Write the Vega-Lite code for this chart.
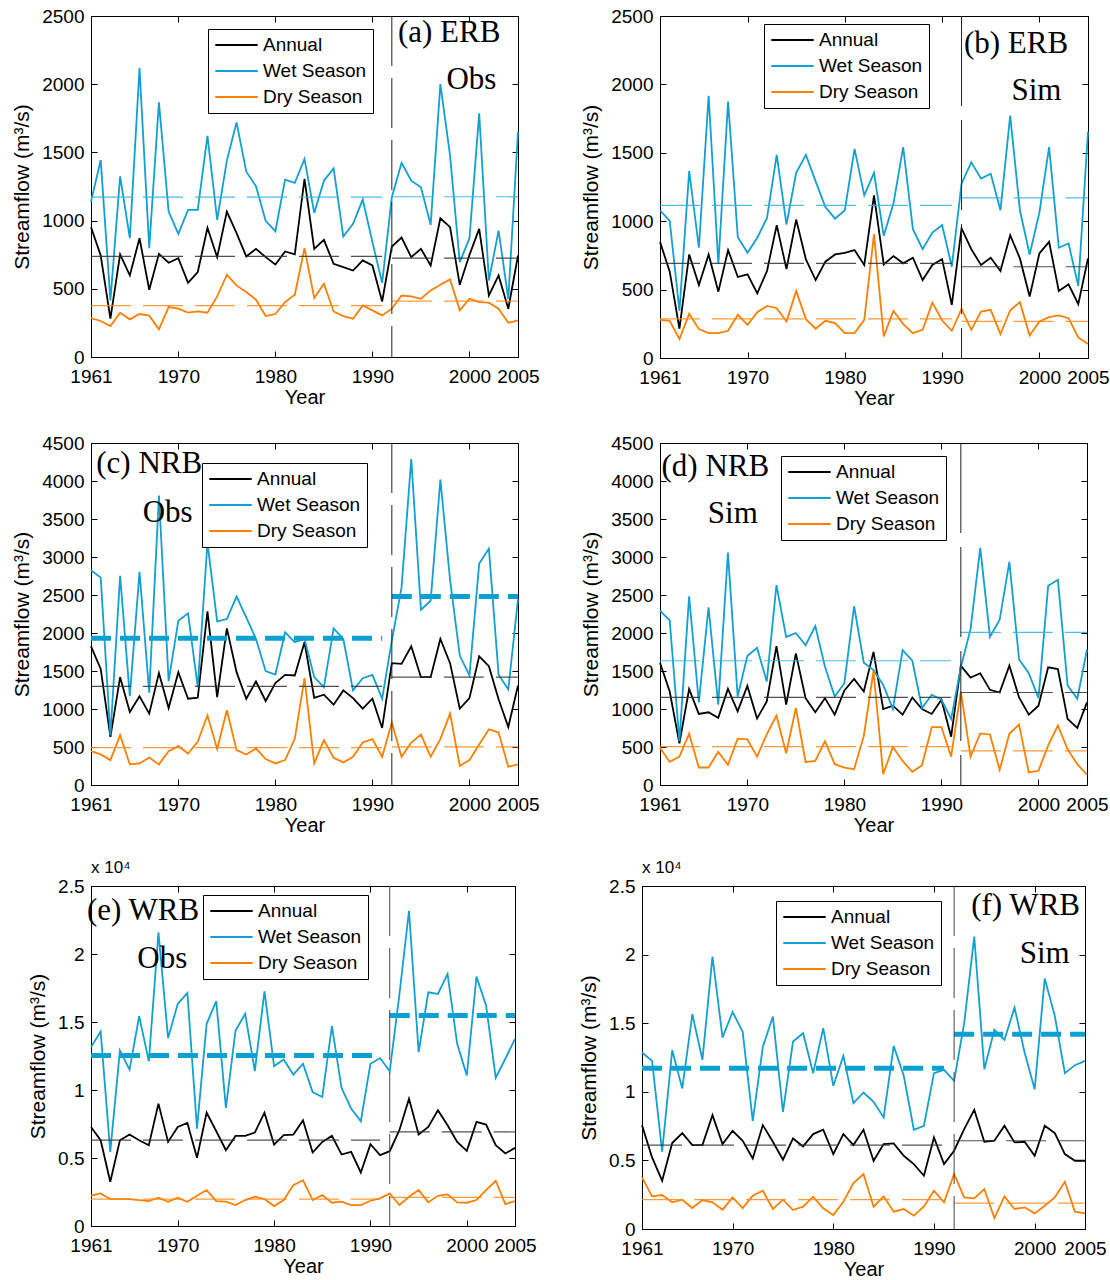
{
"$schema": "https://vega.github.io/schema/vega-lite/v6.json",
"padding": {"left": 11, "top": 6, "right": 2, "bottom": 2},
"background": "white",
"datasets": {
"ts": [
{"p":"a","year":1961,"Annual":952,"Wet Season":1139,"Dry Season":285},
{"p":"a","year":1962,"Annual":744,"Wet Season":1444,"Dry Season":264},
{"p":"a","year":1963,"Annual":281,"Wet Season":415,"Dry Season":227},
{"p":"a","year":1964,"Annual":752,"Wet Season":1325,"Dry Season":325},
{"p":"a","year":1965,"Annual":598,"Wet Season":871,"Dry Season":276},
{"p":"a","year":1966,"Annual":871,"Wet Season":2118,"Dry Season":315},
{"p":"a","year":1967,"Annual":493,"Wet Season":798,"Dry Season":303},
{"p":"a","year":1968,"Annual":756,"Wet Season":1867,"Dry Season":203},
{"p":"a","year":1969,"Annual":691,"Wet Season":1066,"Dry Season":366},
{"p":"a","year":1970,"Annual":725,"Wet Season":903,"Dry Season":354},
{"p":"a","year":1971,"Annual":544,"Wet Season":1078,"Dry Season":325},
{"p":"a","year":1972,"Annual":622,"Wet Season":1078,"Dry Season":334},
{"p":"a","year":1973,"Annual":947,"Wet Season":1622,"Dry Season":325},
{"p":"a","year":1974,"Annual":732,"Wet Season":1005,"Dry Season":444},
{"p":"a","year":1975,"Annual":1066,"Wet Season":1440,"Dry Season":603},
{"p":"a","year":1976,"Annual":908,"Wet Season":1720,"Dry Season":525},
{"p":"a","year":1977,"Annual":737,"Wet Season":1359,"Dry Season":476},
{"p":"a","year":1978,"Annual":793,"Wet Season":1252,"Dry Season":420},
{"p":"a","year":1979,"Annual":732,"Wet Season":998,"Dry Season":300},
{"p":"a","year":1980,"Annual":678,"Wet Season":922,"Dry Season":315},
{"p":"a","year":1981,"Annual":774,"Wet Season":1300,"Dry Season":403},
{"p":"a","year":1982,"Annual":752,"Wet Season":1276,"Dry Season":456},
{"p":"a","year":1983,"Annual":1305,"Wet Season":1452,"Dry Season":798},
{"p":"a","year":1984,"Annual":793,"Wet Season":1056,"Dry Season":432},
{"p":"a","year":1985,"Annual":859,"Wet Season":1293,"Dry Season":537},
{"p":"a","year":1986,"Annual":683,"Wet Season":1383,"Dry Season":334},
{"p":"a","year":1987,"Annual":659,"Wet Season":883,"Dry Season":300},
{"p":"a","year":1988,"Annual":634,"Wet Season":976,"Dry Season":281},
{"p":"a","year":1989,"Annual":708,"Wet Season":1154,"Dry Season":378},
{"p":"a","year":1990,"Annual":671,"Wet Season":842,"Dry Season":342},
{"p":"a","year":1991,"Annual":407,"Wet Season":544,"Dry Season":305},
{"p":"a","year":1992,"Annual":810,"Wet Season":1171,"Dry Season":354},
{"p":"a","year":1993,"Annual":876,"Wet Season":1423,"Dry Season":451},
{"p":"a","year":1994,"Annual":732,"Wet Season":1293,"Dry Season":444},
{"p":"a","year":1995,"Annual":793,"Wet Season":1244,"Dry Season":427},
{"p":"a","year":1996,"Annual":671,"Wet Season":969,"Dry Season":488},
{"p":"a","year":1997,"Annual":1017,"Wet Season":2001,"Dry Season":529},
{"p":"a","year":1998,"Annual":952,"Wet Season":1476,"Dry Season":569},
{"p":"a","year":1999,"Annual":529,"Wet Season":695,"Dry Season":342},
{"p":"a","year":2000,"Annual":749,"Wet Season":871,"Dry Season":427},
{"p":"a","year":2001,"Annual":939,"Wet Season":1786,"Dry Season":403},
{"p":"a","year":2002,"Annual":451,"Wet Season":561,"Dry Season":398},
{"p":"a","year":2003,"Annual":598,"Wet Season":927,"Dry Season":354},
{"p":"a","year":2004,"Annual":354,"Wet Season":427,"Dry Season":251},
{"p":"a","year":2005,"Annual":744,"Wet Season":1652,"Dry Season":268},
{"p":"b","year":1961,"Annual":849,"Wet Season":1080,"Dry Season":279},
{"p":"b","year":1962,"Annual":631,"Wet Season":1002,"Dry Season":272},
{"p":"b","year":1963,"Annual":214,"Wet Season":345,"Dry Season":138},
{"p":"b","year":1964,"Annual":757,"Wet Season":1366,"Dry Season":323},
{"p":"b","year":1965,"Annual":534,"Wet Season":806,"Dry Season":211},
{"p":"b","year":1966,"Annual":757,"Wet Season":1917,"Dry Season":182},
{"p":"b","year":1967,"Annual":485,"Wet Season":687,"Dry Season":182},
{"p":"b","year":1968,"Annual":789,"Wet Season":1874,"Dry Season":199},
{"p":"b","year":1969,"Annual":592,"Wet Season":883,"Dry Season":316},
{"p":"b","year":1970,"Annual":612,"Wet Season":769,"Dry Season":243},
{"p":"b","year":1971,"Annual":473,"Wet Season":879,"Dry Season":335},
{"p":"b","year":1972,"Annual":636,"Wet Season":1024,"Dry Season":381},
{"p":"b","year":1973,"Annual":971,"Wet Season":1485,"Dry Season":364},
{"p":"b","year":1974,"Annual":650,"Wet Season":976,"Dry Season":267},
{"p":"b","year":1975,"Annual":1012,"Wet Season":1354,"Dry Season":490},
{"p":"b","year":1976,"Annual":721,"Wet Season":1485,"Dry Season":284},
{"p":"b","year":1977,"Annual":570,"Wet Season":1291,"Dry Season":214},
{"p":"b","year":1978,"Annual":704,"Wet Season":1104,"Dry Season":272},
{"p":"b","year":1979,"Annual":757,"Wet Season":1019,"Dry Season":255},
{"p":"b","year":1980,"Annual":769,"Wet Season":1080,"Dry Season":182},
{"p":"b","year":1981,"Annual":789,"Wet Season":1529,"Dry Season":182},
{"p":"b","year":1982,"Annual":680,"Wet Season":1189,"Dry Season":279},
{"p":"b","year":1983,"Annual":1189,"Wet Season":1354,"Dry Season":905},
{"p":"b","year":1984,"Annual":684,"Wet Season":893,"Dry Season":158},
{"p":"b","year":1985,"Annual":745,"Wet Season":1129,"Dry Season":345},
{"p":"b","year":1986,"Annual":692,"Wet Season":1541,"Dry Season":248},
{"p":"b","year":1987,"Annual":733,"Wet Season":942,"Dry Season":182},
{"p":"b","year":1988,"Annual":570,"Wet Season":796,"Dry Season":206},
{"p":"b","year":1989,"Annual":680,"Wet Season":917,"Dry Season":405},
{"p":"b","year":1990,"Annual":723,"Wet Season":971,"Dry Season":274},
{"p":"b","year":1991,"Annual":388,"Wet Season":667,"Dry Season":199},
{"p":"b","year":1992,"Annual":947,"Wet Season":1274,"Dry Season":359},
{"p":"b","year":1993,"Annual":796,"Wet Season":1432,"Dry Season":206},
{"p":"b","year":1994,"Annual":680,"Wet Season":1311,"Dry Season":340},
{"p":"b","year":1995,"Annual":733,"Wet Season":1347,"Dry Season":352},
{"p":"b","year":1996,"Annual":636,"Wet Season":1080,"Dry Season":175},
{"p":"b","year":1997,"Annual":898,"Wet Season":1772,"Dry Season":349},
{"p":"b","year":1998,"Annual":728,"Wet Season":1080,"Dry Season":408},
{"p":"b","year":1999,"Annual":449,"Wet Season":757,"Dry Season":165},
{"p":"b","year":2000,"Annual":764,"Wet Season":1063,"Dry Season":267},
{"p":"b","year":2001,"Annual":849,"Wet Season":1541,"Dry Season":299},
{"p":"b","year":2002,"Annual":490,"Wet Season":806,"Dry Season":311},
{"p":"b","year":2003,"Annual":539,"Wet Season":837,"Dry Season":291},
{"p":"b","year":2004,"Annual":393,"Wet Season":527,"Dry Season":150},
{"p":"b","year":2005,"Annual":728,"Wet Season":1655,"Dry Season":102},
{"p":"c","year":1961,"Annual":1825,"Wet Season":2826,"Dry Season":445},
{"p":"c","year":1962,"Annual":1528,"Wet Season":2729,"Dry Season":402},
{"p":"c","year":1963,"Annual":633,"Wet Season":655,"Dry Season":328},
{"p":"c","year":1964,"Annual":1419,"Wet Season":2751,"Dry Season":655},
{"p":"c","year":1965,"Annual":961,"Wet Season":1170,"Dry Season":271},
{"p":"c","year":1966,"Annual":1166,"Wet Season":2804,"Dry Season":284},
{"p":"c","year":1967,"Annual":939,"Wet Season":1214,"Dry Season":362},
{"p":"c","year":1968,"Annual":1472,"Wet Season":3808,"Dry Season":271},
{"p":"c","year":1969,"Annual":1013,"Wet Season":1367,"Dry Season":445},
{"p":"c","year":1970,"Annual":1485,"Wet Season":2162,"Dry Season":511},
{"p":"c","year":1971,"Annual":1135,"Wet Season":2258,"Dry Season":415},
{"p":"c","year":1972,"Annual":1148,"Wet Season":1288,"Dry Season":568},
{"p":"c","year":1973,"Annual":2284,"Wet Season":3188,"Dry Season":917},
{"p":"c","year":1974,"Annual":1157,"Wet Season":2153,"Dry Season":472},
{"p":"c","year":1975,"Annual":2061,"Wet Season":2183,"Dry Season":983},
{"p":"c","year":1976,"Annual":1485,"Wet Season":2480,"Dry Season":459},
{"p":"c","year":1977,"Annual":1135,"Wet Season":2205,"Dry Season":402},
{"p":"c","year":1978,"Annual":1362,"Wet Season":1921,"Dry Season":480},
{"p":"c","year":1979,"Annual":1105,"Wet Season":1498,"Dry Season":341},
{"p":"c","year":1980,"Annual":1340,"Wet Season":1454,"Dry Season":284},
{"p":"c","year":1981,"Annual":1450,"Wet Season":2009,"Dry Season":328},
{"p":"c","year":1982,"Annual":1441,"Wet Season":1878,"Dry Season":611},
{"p":"c","year":1983,"Annual":1878,"Wet Season":1921,"Dry Season":1406},
{"p":"c","year":1984,"Annual":1148,"Wet Season":1419,"Dry Season":284},
{"p":"c","year":1985,"Annual":1188,"Wet Season":1288,"Dry Season":590},
{"p":"c","year":1986,"Annual":1057,"Wet Season":2061,"Dry Season":358},
{"p":"c","year":1987,"Annual":1245,"Wet Season":1921,"Dry Season":297},
{"p":"c","year":1988,"Annual":1144,"Wet Season":1245,"Dry Season":371},
{"p":"c","year":1989,"Annual":1004,"Wet Season":1406,"Dry Season":559},
{"p":"c","year":1990,"Annual":1135,"Wet Season":1450,"Dry Season":603},
{"p":"c","year":1991,"Annual":751,"Wet Season":1135,"Dry Season":371},
{"p":"c","year":1992,"Annual":1603,"Wet Season":1900,"Dry Season":821},
{"p":"c","year":1993,"Annual":1594,"Wet Season":2600,"Dry Season":371},
{"p":"c","year":1994,"Annual":1825,"Wet Season":4288,"Dry Season":559},
{"p":"c","year":1995,"Annual":1419,"Wet Season":2306,"Dry Season":664},
{"p":"c","year":1996,"Annual":1419,"Wet Season":2424,"Dry Season":371},
{"p":"c","year":1997,"Annual":1921,"Wet Season":4018,"Dry Season":603},
{"p":"c","year":1998,"Annual":1603,"Wet Season":2700,"Dry Season":939},
{"p":"c","year":1999,"Annual":1004,"Wet Season":1703,"Dry Season":253},
{"p":"c","year":2000,"Annual":1144,"Wet Season":1441,"Dry Season":328},
{"p":"c","year":2001,"Annual":1694,"Wet Season":2913,"Dry Season":533},
{"p":"c","year":2002,"Annual":1563,"Wet Season":3109,"Dry Season":734},
{"p":"c","year":2003,"Annual":1127,"Wet Season":1450,"Dry Season":690},
{"p":"c","year":2004,"Annual":764,"Wet Season":1258,"Dry Season":240},
{"p":"c","year":2005,"Annual":1310,"Wet Season":2445,"Dry Season":271},
{"p":"d","year":1961,"Annual":1609,"Wet Season":2296,"Dry Season":491},
{"p":"d","year":1962,"Annual":1230,"Wet Season":2165,"Dry Season":304},
{"p":"d","year":1963,"Annual":548,"Wet Season":578,"Dry Season":374},
{"p":"d","year":1964,"Annual":1261,"Wet Season":2483,"Dry Season":674},
{"p":"d","year":1965,"Annual":935,"Wet Season":1087,"Dry Season":230},
{"p":"d","year":1966,"Annual":957,"Wet Season":2339,"Dry Season":230},
{"p":"d","year":1967,"Annual":883,"Wet Season":1057,"Dry Season":435},
{"p":"d","year":1968,"Annual":1265,"Wet Season":3057,"Dry Season":265},
{"p":"d","year":1969,"Annual":970,"Wet Season":1165,"Dry Season":609},
{"p":"d","year":1970,"Annual":1304,"Wet Season":1696,"Dry Season":600},
{"p":"d","year":1971,"Annual":874,"Wet Season":1804,"Dry Season":374},
{"p":"d","year":1972,"Annual":1100,"Wet Season":1361,"Dry Season":665},
{"p":"d","year":1973,"Annual":1826,"Wet Season":2631,"Dry Season":913},
{"p":"d","year":1974,"Annual":1057,"Wet Season":1948,"Dry Season":417},
{"p":"d","year":1975,"Annual":1730,"Wet Season":2000,"Dry Season":1013},
{"p":"d","year":1976,"Annual":1143,"Wet Season":1839,"Dry Season":304},
{"p":"d","year":1977,"Annual":957,"Wet Season":2091,"Dry Season":317},
{"p":"d","year":1978,"Annual":1143,"Wet Season":1557,"Dry Season":578},
{"p":"d","year":1979,"Annual":926,"Wet Season":1165,"Dry Season":274},
{"p":"d","year":1980,"Annual":1243,"Wet Season":1339,"Dry Season":230},
{"p":"d","year":1981,"Annual":1396,"Wet Season":2352,"Dry Season":209},
{"p":"d","year":1982,"Annual":1230,"Wet Season":1609,"Dry Season":643},
{"p":"d","year":1983,"Annual":1752,"Wet Season":1513,"Dry Season":1500},
{"p":"d","year":1984,"Annual":1000,"Wet Season":1317,"Dry Season":143},
{"p":"d","year":1985,"Annual":1044,"Wet Season":1000,"Dry Season":500},
{"p":"d","year":1986,"Annual":926,"Wet Season":1774,"Dry Season":317},
{"p":"d","year":1987,"Annual":1152,"Wet Season":1635,"Dry Season":174},
{"p":"d","year":1988,"Annual":1000,"Wet Season":1013,"Dry Season":261},
{"p":"d","year":1989,"Annual":935,"Wet Season":1187,"Dry Season":761},
{"p":"d","year":1990,"Annual":1122,"Wet Season":1122,"Dry Season":761},
{"p":"d","year":1991,"Annual":635,"Wet Season":870,"Dry Season":374},
{"p":"d","year":1992,"Annual":1570,"Wet Season":1550,"Dry Season":1230},
{"p":"d","year":1993,"Annual":1413,"Wet Season":2050,"Dry Season":374},
{"p":"d","year":1994,"Annual":1470,"Wet Season":3120,"Dry Season":678},
{"p":"d","year":1995,"Annual":1252,"Wet Season":1948,"Dry Season":665},
{"p":"d","year":1996,"Annual":1217,"Wet Season":2174,"Dry Season":200},
{"p":"d","year":1997,"Annual":1570,"Wet Season":2935,"Dry Season":674},
{"p":"d","year":1998,"Annual":1152,"Wet Season":1652,"Dry Season":796},
{"p":"d","year":1999,"Annual":926,"Wet Season":1470,"Dry Season":165},
{"p":"d","year":2000,"Annual":1044,"Wet Season":1143,"Dry Season":187},
{"p":"d","year":2001,"Annual":1548,"Wet Season":2622,"Dry Season":522},
{"p":"d","year":2002,"Annual":1526,"Wet Season":2700,"Dry Season":783},
{"p":"d","year":2003,"Annual":870,"Wet Season":1309,"Dry Season":470},
{"p":"d","year":2004,"Annual":752,"Wet Season":1135,"Dry Season":274},
{"p":"d","year":2005,"Annual":1087,"Wet Season":1783,"Dry Season":135},
{"p":"e","year":1961,"Annual":7286,"Wet Season":13154,"Dry Season":2225},
{"p":"e","year":1962,"Annual":6308,"Wet Season":14303,"Dry Season":2396},
{"p":"e","year":1963,"Annual":3252,"Wet Season":5452,"Dry Season":1980},
{"p":"e","year":1964,"Annual":6308,"Wet Season":12910,"Dry Season":1980},
{"p":"e","year":1965,"Annual":6724,"Wet Season":11492,"Dry Season":1980},
{"p":"e","year":1966,"Annual":6308,"Wet Season":15428,"Dry Season":1907},
{"p":"e","year":1967,"Annual":5941,"Wet Season":12103,"Dry Season":1834},
{"p":"e","year":1968,"Annual":8998,"Wet Season":21590,"Dry Season":2078},
{"p":"e","year":1969,"Annual":6186,"Wet Season":13814,"Dry Season":1785},
{"p":"e","year":1970,"Annual":7286,"Wet Season":16333,"Dry Season":2078},
{"p":"e","year":1971,"Annual":7580,"Wet Season":17139,"Dry Season":1785},
{"p":"e","year":1972,"Annual":5012,"Wet Season":7164,"Dry Season":2225},
{"p":"e","year":1973,"Annual":8337,"Wet Season":14866,"Dry Season":2641},
{"p":"e","year":1974,"Annual":6968,"Wet Season":16528,"Dry Season":1834},
{"p":"e","year":1975,"Annual":5575,"Wet Season":8680,"Dry Season":1785},
{"p":"e","year":1976,"Annual":6626,"Wet Season":14377,"Dry Season":1540},
{"p":"e","year":1977,"Annual":6626,"Wet Season":15599,"Dry Season":1907},
{"p":"e","year":1978,"Annual":6870,"Wet Season":11394,"Dry Season":2152},
{"p":"e","year":1979,"Annual":8337,"Wet Season":17262,"Dry Season":1980},
{"p":"e","year":1980,"Annual":5990,"Wet Season":11760,"Dry Season":1467},
{"p":"e","year":1981,"Annual":6675,"Wet Season":12250,"Dry Season":1907},
{"p":"e","year":1982,"Annual":6724,"Wet Season":11125,"Dry Season":3007},
{"p":"e","year":1983,"Annual":7775,"Wet Season":11932,"Dry Season":3374},
{"p":"e","year":1984,"Annual":5403,"Wet Season":9853,"Dry Season":1907},
{"p":"e","year":1985,"Annual":6186,"Wet Season":9487,"Dry Season":2274},
{"p":"e","year":1986,"Annual":6626,"Wet Season":14694,"Dry Season":1711},
{"p":"e","year":1987,"Annual":5257,"Wet Season":10147,"Dry Season":1785},
{"p":"e","year":1988,"Annual":5452,"Wet Season":8631,"Dry Season":1540},
{"p":"e","year":1989,"Annual":3936,"Wet Season":7702,"Dry Season":1540},
{"p":"e","year":1990,"Annual":6015,"Wet Season":11932,"Dry Season":1858},
{"p":"e","year":1991,"Annual":5208,"Wet Season":12347,"Dry Season":2029},
{"p":"e","year":1992,"Annual":5501,"Wet Season":11369,"Dry Season":2396},
{"p":"e","year":1993,"Annual":7042,"Wet Season":17000,"Dry Season":1540},
{"p":"e","year":1994,"Annual":9364,"Wet Season":23179,"Dry Season":2152},
{"p":"e","year":1995,"Annual":6724,"Wet Season":12787,"Dry Season":2641},
{"p":"e","year":1996,"Annual":7286,"Wet Season":17188,"Dry Season":1736},
{"p":"e","year":1997,"Annual":8509,"Wet Season":17066,"Dry Season":2225},
{"p":"e","year":1998,"Annual":7408,"Wet Season":18533,"Dry Season":2323},
{"p":"e","year":1999,"Annual":6186,"Wet Season":13399,"Dry Season":1736},
{"p":"e","year":2000,"Annual":5526,"Wet Season":11076,"Dry Season":1711},
{"p":"e","year":2001,"Annual":7653,"Wet Season":18338,"Dry Season":1907},
{"p":"e","year":2002,"Annual":7457,"Wet Season":16210,"Dry Season":2641},
{"p":"e","year":2003,"Annual":5941,"Wet Season":10905,"Dry Season":3325},
{"p":"e","year":2004,"Annual":5330,"Wet Season":12298,"Dry Season":1614},
{"p":"e","year":2005,"Annual":5746,"Wet Season":13765,"Dry Season":1834},
{"p":"f","year":1961,"Annual":7572,"Wet Season":12863,"Dry Season":3762},
{"p":"f","year":1962,"Annual":5218,"Wet Season":12256,"Dry Season":2378},
{"p":"f","year":1963,"Annual":3519,"Wet Season":5631,"Dry Season":2476},
{"p":"f","year":1964,"Annual":6262,"Wet Season":13033,"Dry Season":1942},
{"p":"f","year":1965,"Annual":6990,"Wet Season":10242,"Dry Season":2136},
{"p":"f","year":1966,"Annual":6116,"Wet Season":15654,"Dry Season":1529},
{"p":"f","year":1967,"Annual":6116,"Wet Season":12329,"Dry Season":2112},
{"p":"f","year":1968,"Annual":8300,"Wet Season":19853,"Dry Season":1942},
{"p":"f","year":1969,"Annual":6189,"Wet Season":13955,"Dry Season":1408},
{"p":"f","year":1970,"Annual":7160,"Wet Season":15824,"Dry Season":2306},
{"p":"f","year":1971,"Annual":6432,"Wet Season":14368,"Dry Season":1529},
{"p":"f","year":1972,"Annual":5145,"Wet Season":7888,"Dry Season":2427},
{"p":"f","year":1973,"Annual":7572,"Wet Season":13276,"Dry Season":2791},
{"p":"f","year":1974,"Annual":6359,"Wet Season":15484,"Dry Season":1456},
{"p":"f","year":1975,"Annual":5048,"Wet Season":8543,"Dry Season":2136},
{"p":"f","year":1976,"Annual":6601,"Wet Season":13664,"Dry Season":1383},
{"p":"f","year":1977,"Annual":6019,"Wet Season":14270,"Dry Season":1626},
{"p":"f","year":1978,"Annual":6917,"Wet Season":11358,"Dry Season":2354},
{"p":"f","year":1979,"Annual":7233,"Wet Season":14635,"Dry Season":1505},
{"p":"f","year":1980,"Annual":5461,"Wet Season":10436,"Dry Season":1019},
{"p":"f","year":1981,"Annual":6917,"Wet Season":12620,"Dry Season":1990},
{"p":"f","year":1982,"Annual":6116,"Wet Season":9174,"Dry Season":3349},
{"p":"f","year":1983,"Annual":7233,"Wet Season":9951,"Dry Season":4005},
{"p":"f","year":1984,"Annual":4975,"Wet Season":9271,"Dry Season":1626},
{"p":"f","year":1985,"Annual":6189,"Wet Season":8131,"Dry Season":2378},
{"p":"f","year":1986,"Annual":6237,"Wet Season":13349,"Dry Season":1262},
{"p":"f","year":1987,"Annual":5339,"Wet Season":11164,"Dry Season":1456},
{"p":"f","year":1988,"Annual":4733,"Wet Season":7233,"Dry Season":971},
{"p":"f","year":1989,"Annual":3883,"Wet Season":7524,"Dry Season":1650},
{"p":"f","year":1990,"Annual":6674,"Wet Season":11358,"Dry Season":2791},
{"p":"f","year":1991,"Annual":4733,"Wet Season":11601,"Dry Season":1942},
{"p":"f","year":1992,"Annual":5704,"Wet Season":10800,"Dry Season":4005},
{"p":"f","year":1993,"Annual":7281,"Wet Season":15000,"Dry Season":2306},
{"p":"f","year":1994,"Annual":8689,"Wet Season":21309,"Dry Season":2233},
{"p":"f","year":1995,"Annual":6359,"Wet Season":11650,"Dry Season":2912},
{"p":"f","year":1996,"Annual":6432,"Wet Season":14514,"Dry Season":801},
{"p":"f","year":1997,"Annual":7524,"Wet Season":13785,"Dry Season":2378},
{"p":"f","year":1998,"Annual":6310,"Wet Season":16140,"Dry Season":1456},
{"p":"f","year":1999,"Annual":6359,"Wet Season":12863,"Dry Season":1578},
{"p":"f","year":2000,"Annual":5339,"Wet Season":10193,"Dry Season":1141},
{"p":"f","year":2001,"Annual":7524,"Wet Season":18251,"Dry Season":1699},
{"p":"f","year":2002,"Annual":6990,"Wet Season":15533,"Dry Season":2306},
{"p":"f","year":2003,"Annual":5461,"Wet Season":11358,"Dry Season":3446},
{"p":"f","year":2004,"Annual":4975,"Wet Season":11941,"Dry Season":1262},
{"p":"f","year":2005,"Annual":4975,"Wet Season":12256,"Dry Season":1141}
],
"means": [
{"p":"a","series":"Annual","start":1961,"end":1991,"mean":737},
{"p":"a","series":"Annual","start":1992,"end":2005,"mean":725},
{"p":"a","series":"Wet Season","start":1961,"end":1991,"mean":1172},
{"p":"a","series":"Wet Season","start":1992,"end":2005,"mean":1175},
{"p":"a","series":"Dry Season","start":1961,"end":1991,"mean":376},
{"p":"a","series":"Dry Season","start":1992,"end":2005,"mean":410},
{"p":"b","series":"Annual","start":1961,"end":1991,"mean":692},
{"p":"b","series":"Annual","start":1992,"end":2005,"mean":667},
{"p":"b","series":"Wet Season","start":1961,"end":1991,"mean":1116},
{"p":"b","series":"Wet Season","start":1992,"end":2005,"mean":1170},
{"p":"b","series":"Dry Season","start":1961,"end":1991,"mean":286},
{"p":"b","series":"Dry Season","start":1992,"end":2005,"mean":267},
{"p":"c","series":"Annual","start":1961,"end":1991,"mean":1297},
{"p":"c","series":"Annual","start":1992,"end":2005,"mean":1419},
{"p":"c","series":"Wet Season","start":1961,"end":1991,"mean":1930},
{"p":"c","series":"Wet Season","start":1992,"end":2005,"mean":2480},
{"p":"c","series":"Dry Season","start":1961,"end":1991,"mean":493},
{"p":"c","series":"Dry Season","start":1992,"end":2005,"mean":502},
{"p":"d","series":"Annual","start":1961,"end":1991,"mean":1152},
{"p":"d","series":"Annual","start":1992,"end":2005,"mean":1217},
{"p":"d","series":"Wet Season","start":1961,"end":1991,"mean":1635},
{"p":"d","series":"Wet Season","start":1992,"end":2005,"mean":2009},
{"p":"d","series":"Dry Season","start":1961,"end":1991,"mean":504},
{"p":"d","series":"Dry Season","start":1992,"end":2005,"mean":448},
{"p":"e","series":"Annual","start":1961,"end":1991,"mean":6308},
{"p":"e","series":"Annual","start":1992,"end":2005,"mean":6919},
{"p":"e","series":"Wet Season","start":1961,"end":1991,"mean":12543},
{"p":"e","series":"Wet Season","start":1992,"end":2005,"mean":15477},
{"p":"e","series":"Dry Season","start":1961,"end":1991,"mean":1980},
{"p":"e","series":"Dry Season","start":1992,"end":2005,"mean":2103},
{"p":"f","series":"Annual","start":1961,"end":1991,"mean":6116},
{"p":"f","series":"Annual","start":1992,"end":2005,"mean":6432},
{"p":"f","series":"Wet Season","start":1961,"end":1991,"mean":11722},
{"p":"f","series":"Wet Season","start":1992,"end":2005,"mean":14198},
{"p":"f","series":"Dry Season","start":1961,"end":1991,"mean":2136},
{"p":"f","series":"Dry Season","start":1992,"end":2005,"mean":1893}
]
},
"columns": 1,
"spacing": 24,
"resolve": {"scale": {"color": "independent"}, "legend": {"color": "independent"}},
"concat": [
{"hconcat": [
{"width": 427, "height": 341, "resolve": {"axis": {"x": "independent", "y": "independent"}}, "layer": [
 {"data": {"name": "ts"}, "transform": [{"filter": "datum.p === 'a'"}, {"fold": ["Annual", "Wet Season", "Dry Season"], "as": ["series", "flow"]}],
  "mark": {"type": "line", "strokeWidth": 1.8},
  "encoding": {
   "x": {"field": "year", "type": "quantitative", "title": "Year", "scale": {"domain": [1961, 2005], "nice": false, "zero": false}, "axis": {"values": [1961, 1970, 1980, 1990, 2000, 2005], "format": "d", "tickCount": 12}},
   "y": {"field": "flow", "type": "quantitative", "title": "Streamflow (m³/s)", "scale": {"domain": [0, 2500], "nice": false}, "axis": {"values": [0, 500, 1000, 1500, 2000, 2500], "format": "d", "tickCount": 12}},
   "color": {"field": "series", "type": "nominal", "scale": {"domain": ["Annual", "Wet Season", "Dry Season"], "range": ["#000000", "#129fd4", "#ff7f00"]}, "legend": {"legendX": 117, "legendY": 13}}}},
 {"data": {"name": "means"}, "transform": [{"filter": "datum.p === 'a'"}],
  "mark": {"type": "rule", "strokeWidth": 1.2, "strokeDash": [40, 12], "opacity": 0.85},
  "encoding": {"x": {"field": "start", "type": "quantitative", "axis": {"orient": "top", "labels": false, "title": null, "domain": false, "values": [1961, 1970, 1980, 1990, 2000, 2005], "tickCount": 12}}, "x2": {"field": "end"}, "y": {"field": "mean", "type": "quantitative", "axis": {"orient": "right", "labels": false, "title": null, "domain": false, "values": [0, 500, 1000, 1500, 2000, 2500], "tickCount": 12}},
   "stroke": {"field": "series", "type": "nominal", "scale": {"domain": ["Annual", "Wet Season", "Dry Season"], "range": ["#333333", "#2fb0e0", "#ff8a1a"]}, "legend": null}}},
 {"data": {"values": [{}]}, "mark": {"type": "rule", "stroke": "#222222", "strokeWidth": 1, "strokeDash": [50, 12]}, "encoding": {"x": {"datum": 1992, "axis": null}}},
 {"data": {"values": [{}]}, "mark": {"type": "text", "font": "Liberation Serif", "fontSize": 31, "align": "center", "baseline": "alphabetic", "color": "black"}, "encoding": {"x": {"datum": 1997.9, "axis": null}, "y": {"datum": 2309, "axis": null}, "text": {"value": "(a) ERB"}}},
 {"data": {"values": [{}]}, "mark": {"type": "text", "font": "Liberation Serif", "fontSize": 31, "align": "center", "baseline": "alphabetic", "color": "black"}, "encoding": {"x": {"datum": 2000.2, "axis": null}, "y": {"datum": 1965, "axis": null}, "text": {"value": "Obs"}}}
]},
{"width": 428, "height": 342, "resolve": {"axis": {"x": "independent", "y": "independent"}}, "layer": [
 {"data": {"name": "ts"}, "transform": [{"filter": "datum.p === 'b'"}, {"fold": ["Annual", "Wet Season", "Dry Season"], "as": ["series", "flow"]}],
  "mark": {"type": "line", "strokeWidth": 1.8},
  "encoding": {
   "x": {"field": "year", "type": "quantitative", "title": "Year", "scale": {"domain": [1961, 2005], "nice": false, "zero": false}, "axis": {"values": [1961, 1970, 1980, 1990, 2000, 2005], "format": "d", "tickCount": 12}},
   "y": {"field": "flow", "type": "quantitative", "title": "Streamflow (m³/s)", "scale": {"domain": [0, 2500], "nice": false}, "axis": {"values": [0, 500, 1000, 1500, 2000, 2500], "format": "d", "tickCount": 12}},
   "color": {"field": "series", "type": "nominal", "scale": {"domain": ["Annual", "Wet Season", "Dry Season"], "range": ["#000000", "#129fd4", "#ff7f00"]}, "legend": {"legendX": 104, "legendY": 8}}}},
 {"data": {"name": "means"}, "transform": [{"filter": "datum.p === 'b'"}],
  "mark": {"type": "rule", "strokeWidth": 1.2, "strokeDash": [40, 12], "opacity": 0.85},
  "encoding": {"x": {"field": "start", "type": "quantitative", "axis": {"orient": "top", "labels": false, "title": null, "domain": false, "values": [1961, 1970, 1980, 1990, 2000, 2005], "tickCount": 12}}, "x2": {"field": "end"}, "y": {"field": "mean", "type": "quantitative", "axis": {"orient": "right", "labels": false, "title": null, "domain": false, "values": [0, 500, 1000, 1500, 2000, 2500], "tickCount": 12}},
   "stroke": {"field": "series", "type": "nominal", "scale": {"domain": ["Annual", "Wet Season", "Dry Season"], "range": ["#333333", "#2fb0e0", "#ff8a1a"]}, "legend": null}}},
 {"data": {"values": [{}]}, "mark": {"type": "rule", "stroke": "#222222", "strokeWidth": 1, "strokeDash": [90, 14]}, "encoding": {"x": {"datum": 1992, "axis": null}}},
 {"data": {"values": [{}]}, "mark": {"type": "text", "font": "Liberation Serif", "fontSize": 31, "align": "center", "baseline": "alphabetic", "color": "black"}, "encoding": {"x": {"datum": 1997.6, "axis": null}, "y": {"datum": 2230, "axis": null}, "text": {"value": "(b) ERB"}}},
 {"data": {"values": [{}]}, "mark": {"type": "text", "font": "Liberation Serif", "fontSize": 31, "align": "center", "baseline": "alphabetic", "color": "black"}, "encoding": {"x": {"datum": 1999.7, "axis": null}, "y": {"datum": 1885, "axis": null}, "text": {"value": "Sim"}}}
]}
], "spacing": 40, "resolve": {"scale": {"color": "independent"}, "legend": {"color": "independent"}}},
{"columns": 1, "spacing": 22, "resolve": {"scale": {"color": "independent"}, "legend": {"color": "independent"}}, "concat": [
{"hconcat": [
{"width": 427, "height": 342, "resolve": {"axis": {"x": "independent", "y": "independent"}}, "layer": [
 {"data": {"name": "ts"}, "transform": [{"filter": "datum.p === 'c'"}, {"fold": ["Annual", "Wet Season", "Dry Season"], "as": ["series", "flow"]}],
  "mark": {"type": "line", "strokeWidth": 1.8},
  "encoding": {
   "x": {"field": "year", "type": "quantitative", "title": "Year", "scale": {"domain": [1961, 2005], "nice": false, "zero": false}, "axis": {"values": [1961, 1970, 1980, 1990, 2000, 2005], "format": "d", "tickCount": 12}},
   "y": {"field": "flow", "type": "quantitative", "title": "Streamflow (m³/s)", "scale": {"domain": [0, 4500], "nice": false}, "axis": {"values": [0, 500, 1000, 1500, 2000, 2500, 3000, 3500, 4000, 4500], "format": "d", "tickCount": 12}},
   "color": {"field": "series", "type": "nominal", "scale": {"domain": ["Annual", "Wet Season", "Dry Season"], "range": ["#000000", "#129fd4", "#ff7f00"]}, "legend": {"legendX": 111, "legendY": 20}}}},
 {"data": {"name": "means"}, "transform": [{"filter": "datum.p === 'c' && datum.series !== 'Wet Season'"}],
  "mark": {"type": "rule", "strokeWidth": 1.2, "strokeDash": [40, 12], "opacity": 0.85},
  "encoding": {"x": {"field": "start", "type": "quantitative", "axis": {"orient": "top", "labels": false, "title": null, "domain": false, "values": [1961, 1970, 1980, 1990, 2000, 2005], "tickCount": 12}}, "x2": {"field": "end"}, "y": {"field": "mean", "type": "quantitative", "axis": {"orient": "right", "labels": false, "title": null, "domain": false, "values": [0, 500, 1000, 1500, 2000, 2500, 3000, 3500, 4000, 4500], "tickCount": 12}},
   "stroke": {"field": "series", "type": "nominal", "scale": {"domain": ["Annual", "Wet Season", "Dry Season"], "range": ["#333333", "#2fb0e0", "#ff8a1a"]}, "legend": null}}},
 {"data": {"name": "means"}, "transform": [{"filter": "datum.p === 'c' && datum.series === 'Wet Season'"}],
  "mark": {"type": "rule", "strokeWidth": 5, "strokeDash": [20, 9], "stroke": "#0aa0d2"},
  "encoding": {"x": {"field": "start", "type": "quantitative", "axis": null}, "x2": {"field": "end"}, "y": {"field": "mean", "type": "quantitative", "axis": null}}},
 {"data": {"values": [{}]}, "mark": {"type": "rule", "stroke": "#222222", "strokeWidth": 1, "strokeDash": [50, 12]}, "encoding": {"x": {"datum": 1992, "axis": null}}},
 {"data": {"values": [{}]}, "mark": {"type": "text", "font": "Liberation Serif", "fontSize": 31, "align": "center", "baseline": "alphabetic", "color": "black"}, "encoding": {"x": {"datum": 1967.0, "axis": null}, "y": {"datum": 4105, "axis": null}, "text": {"value": "(c) NRB"}}},
 {"data": {"values": [{}]}, "mark": {"type": "text", "font": "Liberation Serif", "fontSize": 31, "align": "center", "baseline": "alphabetic", "color": "black"}, "encoding": {"x": {"datum": 1968.9, "axis": null}, "y": {"datum": 3460, "axis": null}, "text": {"value": "Obs"}}}
]},
{"width": 427, "height": 342, "resolve": {"axis": {"x": "independent", "y": "independent"}}, "layer": [
 {"data": {"name": "ts"}, "transform": [{"filter": "datum.p === 'd'"}, {"fold": ["Annual", "Wet Season", "Dry Season"], "as": ["series", "flow"]}],
  "mark": {"type": "line", "strokeWidth": 1.8},
  "encoding": {
   "x": {"field": "year", "type": "quantitative", "title": "Year", "scale": {"domain": [1961, 2005], "nice": false, "zero": false}, "axis": {"values": [1961, 1970, 1980, 1990, 2000, 2005], "format": "d", "tickCount": 12}},
   "y": {"field": "flow", "type": "quantitative", "title": "Streamflow (m³/s)", "scale": {"domain": [0, 4500], "nice": false}, "axis": {"values": [0, 500, 1000, 1500, 2000, 2500, 3000, 3500, 4000, 4500], "format": "d", "tickCount": 12}},
   "color": {"field": "series", "type": "nominal", "scale": {"domain": ["Annual", "Wet Season", "Dry Season"], "range": ["#000000", "#129fd4", "#ff7f00"]}, "legend": {"legendX": 121, "legendY": 13}}}},
 {"data": {"name": "means"}, "transform": [{"filter": "datum.p === 'd'"}],
  "mark": {"type": "rule", "strokeWidth": 1.2, "strokeDash": [40, 12], "opacity": 0.85},
  "encoding": {"x": {"field": "start", "type": "quantitative", "axis": {"orient": "top", "labels": false, "title": null, "domain": false, "values": [1961, 1970, 1980, 1990, 2000, 2005], "tickCount": 12}}, "x2": {"field": "end"}, "y": {"field": "mean", "type": "quantitative", "axis": {"orient": "right", "labels": false, "title": null, "domain": false, "values": [0, 500, 1000, 1500, 2000, 2500, 3000, 3500, 4000, 4500], "tickCount": 12}},
   "stroke": {"field": "series", "type": "nominal", "scale": {"domain": ["Annual", "Wet Season", "Dry Season"], "range": ["#333333", "#2fb0e0", "#ff8a1a"]}, "legend": null}}},
 {"data": {"values": [{}]}, "mark": {"type": "rule", "stroke": "#222222", "strokeWidth": 1, "strokeDash": [90, 14]}, "encoding": {"x": {"datum": 1992, "axis": null}}},
 {"data": {"values": [{}]}, "mark": {"type": "text", "font": "Liberation Serif", "fontSize": 31, "align": "center", "baseline": "alphabetic", "color": "black"}, "encoding": {"x": {"datum": 1966.7, "axis": null}, "y": {"datum": 4060, "axis": null}, "text": {"value": "(d) NRB"}}},
 {"data": {"values": [{}]}, "mark": {"type": "text", "font": "Liberation Serif", "fontSize": 31, "align": "center", "baseline": "alphabetic", "color": "black"}, "encoding": {"x": {"datum": 1968.5, "axis": null}, "y": {"datum": 3450, "axis": null}, "text": {"value": "Sim"}}}
]}
], "spacing": 40, "resolve": {"scale": {"color": "independent"}, "legend": {"color": "independent"}}},
{"hconcat": [
{"width": 424, "height": 340, "title": {"text": "x 10⁴", "anchor": "start", "frame": "group", "fontSize": 17, "fontWeight": "normal", "font": "Liberation Sans", "offset": 0, "color": "black"}, "resolve": {"axis": {"x": "independent", "y": "independent"}}, "layer": [
 {"data": {"name": "ts"}, "transform": [{"filter": "datum.p === 'e'"}, {"fold": ["Annual", "Wet Season", "Dry Season"], "as": ["series", "flow"]}],
  "mark": {"type": "line", "strokeWidth": 1.8},
  "encoding": {
   "x": {"field": "year", "type": "quantitative", "title": "Year", "scale": {"domain": [1961, 2005], "nice": false, "zero": false}, "axis": {"values": [1961, 1970, 1980, 1990, 2000, 2005], "format": "d", "tickCount": 12}},
   "y": {"field": "flow", "type": "quantitative", "title": "Streamflow (m³/s)", "scale": {"domain": [0, 25000], "nice": false}, "axis": {"values": [0, 5000, 10000, 15000, 20000, 25000], "labelExpr": "datum.value / 10000", "tickCount": 12}},
   "color": {"field": "series", "type": "nominal", "scale": {"domain": ["Annual", "Wet Season", "Dry Season"], "range": ["#000000", "#129fd4", "#ff7f00"]}, "legend": {"legendX": 112, "legendY": 9}}}},
 {"data": {"name": "means"}, "transform": [{"filter": "datum.p === 'e' && datum.series !== 'Wet Season'"}],
  "mark": {"type": "rule", "strokeWidth": 1.2, "strokeDash": [40, 12], "opacity": 0.85},
  "encoding": {"x": {"field": "start", "type": "quantitative", "axis": {"orient": "top", "labels": false, "title": null, "domain": false, "values": [1961, 1970, 1980, 1990, 2000, 2005], "tickCount": 12}}, "x2": {"field": "end"}, "y": {"field": "mean", "type": "quantitative", "axis": {"orient": "right", "labels": false, "title": null, "domain": false, "values": [0, 5000, 10000, 15000, 20000, 25000], "tickCount": 12}},
   "stroke": {"field": "series", "type": "nominal", "scale": {"domain": ["Annual", "Wet Season", "Dry Season"], "range": ["#333333", "#2fb0e0", "#ff8a1a"]}, "legend": null}}},
 {"data": {"name": "means"}, "transform": [{"filter": "datum.p === 'e' && datum.series === 'Wet Season'"}],
  "mark": {"type": "rule", "strokeWidth": 5, "strokeDash": [20, 9], "stroke": "#0aa0d2"},
  "encoding": {"x": {"field": "start", "type": "quantitative", "axis": null}, "x2": {"field": "end"}, "y": {"field": "mean", "type": "quantitative", "axis": null}}},
 {"data": {"values": [{}]}, "mark": {"type": "rule", "stroke": "#444444", "strokeWidth": 1, "strokeDash": [50, 12]}, "encoding": {"x": {"datum": 1992, "axis": null}}},
 {"data": {"values": [{}]}, "mark": {"type": "text", "font": "Liberation Serif", "fontSize": 31, "align": "center", "baseline": "alphabetic", "color": "black"}, "encoding": {"x": {"datum": 1966.4, "axis": null}, "y": {"datum": 22500, "axis": null}, "text": {"value": "(e) WRB"}}},
 {"data": {"values": [{}]}, "mark": {"type": "text", "font": "Liberation Serif", "fontSize": 31, "align": "center", "baseline": "alphabetic", "color": "black"}, "encoding": {"x": {"datum": 1968.4, "axis": null}, "y": {"datum": 18970, "axis": null}, "text": {"value": "Obs"}}}
]},
{"width": 443, "height": 343, "title": {"text": "x 10⁴", "anchor": "start", "frame": "group", "fontSize": 17, "fontWeight": "normal", "font": "Liberation Sans", "offset": 0, "color": "black"}, "resolve": {"axis": {"x": "independent", "y": "independent"}}, "layer": [
 {"data": {"name": "ts"}, "transform": [{"filter": "datum.p === 'f'"}, {"fold": ["Annual", "Wet Season", "Dry Season"], "as": ["series", "flow"]}],
  "mark": {"type": "line", "strokeWidth": 1.8},
  "encoding": {
   "x": {"field": "year", "type": "quantitative", "title": "Year", "scale": {"domain": [1961, 2005], "nice": false, "zero": false}, "axis": {"values": [1961, 1970, 1980, 1990, 2000, 2005], "format": "d", "tickCount": 12}},
   "y": {"field": "flow", "type": "quantitative", "title": "Streamflow (m³/s)", "scale": {"domain": [0, 25000], "nice": false}, "axis": {"values": [0, 5000, 10000, 15000, 20000, 25000], "labelExpr": "datum.value / 10000", "tickCount": 12}},
   "color": {"field": "series", "type": "nominal", "scale": {"domain": ["Annual", "Wet Season", "Dry Season"], "range": ["#000000", "#129fd4", "#ff7f00"]}, "legend": {"legendX": 134, "legendY": 15}}}},
 {"data": {"name": "means"}, "transform": [{"filter": "datum.p === 'f' && datum.series !== 'Wet Season'"}],
  "mark": {"type": "rule", "strokeWidth": 1.2, "strokeDash": [40, 12], "opacity": 0.85},
  "encoding": {"x": {"field": "start", "type": "quantitative", "axis": {"orient": "top", "labels": false, "title": null, "domain": false, "values": [1961, 1970, 1980, 1990, 2000, 2005], "tickCount": 12}}, "x2": {"field": "end"}, "y": {"field": "mean", "type": "quantitative", "axis": {"orient": "right", "labels": false, "title": null, "domain": false, "values": [0, 5000, 10000, 15000, 20000, 25000], "tickCount": 12}},
   "stroke": {"field": "series", "type": "nominal", "scale": {"domain": ["Annual", "Wet Season", "Dry Season"], "range": ["#333333", "#2fb0e0", "#ff8a1a"]}, "legend": null}}},
 {"data": {"name": "means"}, "transform": [{"filter": "datum.p === 'f' && datum.series === 'Wet Season'"}],
  "mark": {"type": "rule", "strokeWidth": 5, "strokeDash": [20, 9], "stroke": "#0aa0d2"},
  "encoding": {"x": {"field": "start", "type": "quantitative", "axis": null}, "x2": {"field": "end"}, "y": {"field": "mean", "type": "quantitative", "axis": null}}},
 {"data": {"values": [{}]}, "mark": {"type": "rule", "stroke": "#444444", "strokeWidth": 1, "strokeDash": [50, 12]}, "encoding": {"x": {"datum": 1992, "axis": null}}},
 {"data": {"values": [{}]}, "mark": {"type": "text", "font": "Liberation Serif", "fontSize": 31, "align": "center", "baseline": "alphabetic", "color": "black"}, "encoding": {"x": {"datum": 1999.1, "axis": null}, "y": {"datum": 22886, "axis": null}, "text": {"value": "(f) WRB"}}},
 {"data": {"values": [{}]}, "mark": {"type": "text", "font": "Liberation Serif", "fontSize": 31, "align": "center", "baseline": "alphabetic", "color": "black"}, "encoding": {"x": {"datum": 2001.0, "axis": null}, "y": {"datum": 19388, "axis": null}, "text": {"value": "Sim"}}}
]}
], "spacing": 41, "resolve": {"scale": {"color": "independent"}, "legend": {"color": "independent"}}}
]}
],
"config": {
 "font": "Liberation Sans",
 "view": {"stroke": "black", "strokeWidth": 1},
 "axis": {"grid": false, "labelFont": "Liberation Sans", "titleFont": "Liberation Sans", "labelFontSize": 19, "titleFontSize": 20, "titleFontWeight": "normal", "labelColor": "black", "titleColor": "black", "domainColor": "black", "tickColor": "black", "tickSize": -6, "labelPadding": 13, "labelFlush": false, "labelOverlap": false},
 "axisX": {"titlePadding": 1, "labelPadding": 16},
 "axisY": {"titlePadding": 9, "titleFontSize": 21},
 "legend": {"orient": "none", "title": null, "strokeColor": "black", "fillColor": "white", "padding": 6, "symbolType": "stroke", "symbolSize": 1800, "symbolStrokeWidth": 2, "labelFontSize": 19, "labelFont": "Liberation Sans", "labelColor": "black", "rowPadding": 6, "clipHeight": 20, "labelOffset": 4, "cornerRadius": 0}
}
}
